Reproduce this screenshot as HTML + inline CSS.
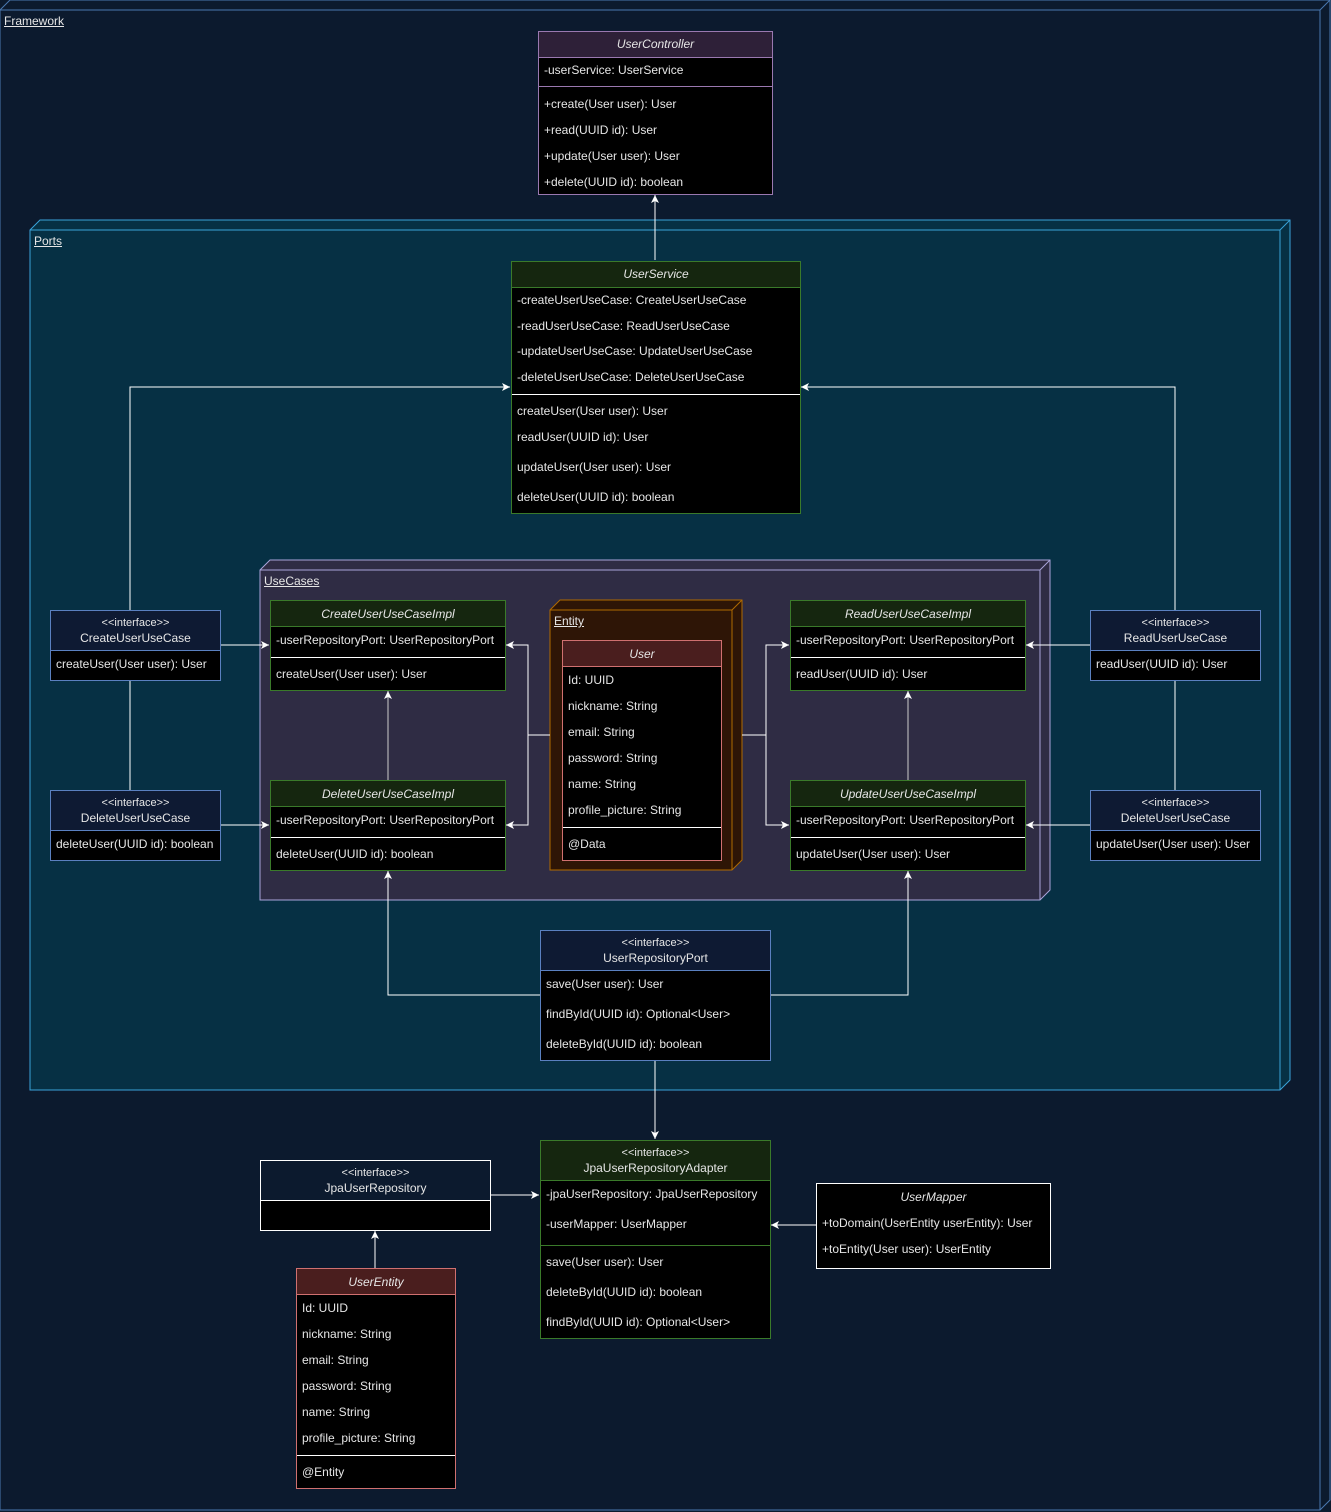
<!DOCTYPE html>
<html><head><meta charset="utf-8"><style>
body{margin:0;width:1331px;height:1512px;background:#0c1a2e;position:relative;overflow:hidden;font-family:"Liberation Sans",Arial,sans-serif;font-size:12px;color:#e6e6e6}
.b{position:absolute;box-sizing:border-box;background:#000;border:1px solid #fff}
.t{position:absolute;left:5px;white-space:nowrap;line-height:14px;transform:translateY(-7px)}
.c{left:0;right:0;text-align:center}
.i{font-style:italic}
.h{position:absolute;left:0;right:0;top:0;box-sizing:border-box}
.d{position:absolute;left:0;right:0;height:1px}
.lbl{position:absolute;text-decoration:underline;font-size:12px;color:#e6e6e6}
svg{position:absolute;left:0;top:0}
</style></head><body>
<svg width="1331" height="1512">
<!-- containers -->
<polygon points="0,10 10,0 1330,0 1330,1500 1320,1510 0,1510" fill="#0c1a2e" stroke="#4a78b0"/>
<polyline points="0,10 1320,10 1320,1510 M1320,10" fill="none" stroke="#4a78b0"/>
<line x1="1320" y1="10" x2="1330" y2="0" stroke="#4a78b0"/>
<polygon points="30,230 40,220 1290,220 1290,1080 1280,1090 30,1090" fill="#063044" stroke="#3aa3d9"/>
<polyline points="30,230 1280,230 1280,1090" fill="none" stroke="#3aa3d9"/>
<line x1="1280" y1="230" x2="1290" y2="220" stroke="#3aa3d9"/>
<polygon points="260,570 270,560 1050,560 1050,890 1040,900 260,900" fill="#2f2c44" stroke="#aaa4da"/>
<polyline points="260,570 1040,570 1040,900" fill="none" stroke="#aaa4da"/>
<line x1="1040" y1="570" x2="1050" y2="560" stroke="#aaa4da"/>
<polygon points="550,610 560,600 742,600 742,860 732,870 550,870" fill="#2e1506" stroke="#b06a00"/>
<polyline points="550,610 732,610 732,870" fill="none" stroke="#b06a00"/>
<line x1="732" y1="610" x2="742" y2="600" stroke="#b06a00"/>
<defs><marker id="a" markerWidth="10" markerHeight="10" refX="8" refY="4" orient="auto" markerUnits="userSpaceOnUse"><path d="M0,0 L8,4 L0,8 L2,4 Z" fill="#fff"/></marker></defs>
<g fill="none" stroke="#fff" stroke-width="1" marker-end="url(#a)">
<path d="M655,260 V195"/>
<path d="M130,610 V387 H510"/>
<path d="M1175,610 V387 H801"/>
<path d="M220,645 H269"/><path d="M220,825 H269"/>
<path d="M1090,645 H1026"/><path d="M1090,825 H1026"/>
<path d="M388,780 V691" stroke="#ccc"/><path d="M908,780 V691" stroke="#ccc"/>
<path d="M528,735 V645 H506"/><path d="M528,735 V825 H506"/>
<path d="M766,735 V645 H789"/><path d="M766,735 V825 H789"/>
<path d="M540,995 H388 V871"/><path d="M770,995 H908 V871"/>
<path d="M655,1060 V1139"/>
<path d="M490,1195 H539"/>
<path d="M816,1225 H771"/>
<path d="M375,1268 V1231"/>
</g>
<g stroke="#fff"><path d="M130,680 V790 M1175,680 V790 M550,735 H528 M742,735 H766"/></g>
</svg>
<div class="lbl" style="left:4px;top:14px">Framework</div>
<div class="lbl" style="left:34px;top:234px">Ports</div>
<div class="lbl" style="left:264px;top:574px">UseCases</div>
<div class="lbl" style="left:554px;top:614px">Entity</div>

<!-- UserController -->
<div class="b" style="left:538px;top:31px;width:235px;height:164px;border-color:#9a78b0">
<div class="h" style="height:26px;background:#2e2038;border-bottom:1px solid #9a78b0"></div>
<div class="t c i" style="top:12px">UserController</div>
<div class="t" style="top:38px">-userService: UserService</div>
<div class="d" style="top:54px;background:#9a78b0"></div>
<div class="t" style="top:72px">+create(User user): User</div>
<div class="t" style="top:98px">+read(UUID id): User</div>
<div class="t" style="top:124px">+update(User user): User</div>
<div class="t" style="top:150px">+delete(UUID id): boolean</div>
</div>

<!-- UserService -->
<div class="b" style="left:511px;top:261px;width:290px;height:253px;border-color:#3a7a2a">
<div class="h" style="height:26px;background:#15260f;border-bottom:1px solid #3a7a2a"></div>
<div class="t c i" style="top:12px">UserService</div>
<div class="t" style="top:38px">-createUserUseCase: CreateUserUseCase</div>
<div class="t" style="top:64px">-readUserUseCase: ReadUserUseCase</div>
<div class="t" style="top:89px">-updateUserUseCase: UpdateUserUseCase</div>
<div class="t" style="top:115px">-deleteUserUseCase: DeleteUserUseCase</div>
<div class="d" style="top:132px;background:#fff"></div>
<div class="t" style="top:149px">createUser(User user): User</div>
<div class="t" style="top:175px">readUser(UUID id): User</div>
<div class="t" style="top:205px">updateUser(User user): User</div>
<div class="t" style="top:235px">deleteUser(UUID id): boolean</div>
</div>

<!-- interfaces -->
<div class="b" style="left:50px;top:610px;width:171px;height:71px;border-color:#5a80c0">
<div class="h" style="height:40px;background:#0e1a33;border-bottom:1px solid #5a80c0"></div>
<div class="t c" style="top:12px;font-size:11px">&lt;&lt;interface&gt;&gt;</div>
<div class="t c" style="top:27px">CreateUserUseCase</div>
<div class="t" style="top:53px">createUser(User user): User</div>
</div>
<div class="b" style="left:50px;top:790px;width:171px;height:71px;border-color:#5a80c0">
<div class="h" style="height:40px;background:#0e1a33;border-bottom:1px solid #5a80c0"></div>
<div class="t c" style="top:12px;font-size:11px">&lt;&lt;interface&gt;&gt;</div>
<div class="t c" style="top:27px">DeleteUserUseCase</div>
<div class="t" style="top:53px">deleteUser(UUID id): boolean</div>
</div>
<div class="b" style="left:1090px;top:610px;width:171px;height:71px;border-color:#5a80c0">
<div class="h" style="height:40px;background:#0e1a33;border-bottom:1px solid #5a80c0"></div>
<div class="t c" style="top:12px;font-size:11px">&lt;&lt;interface&gt;&gt;</div>
<div class="t c" style="top:27px">ReadUserUseCase</div>
<div class="t" style="top:53px">readUser(UUID id): User</div>
</div>
<div class="b" style="left:1090px;top:790px;width:171px;height:71px;border-color:#5a80c0">
<div class="h" style="height:40px;background:#0e1a33;border-bottom:1px solid #5a80c0"></div>
<div class="t c" style="top:12px;font-size:11px">&lt;&lt;interface&gt;&gt;</div>
<div class="t c" style="top:27px">DeleteUserUseCase</div>
<div class="t" style="top:53px">updateUser(User user): User</div>
</div>

<!-- impls -->
<div class="b" style="left:270px;top:600px;width:236px;height:91px;border-color:#3a7a2a">
<div class="h" style="height:26px;background:#15260f;border-bottom:1px solid #3a7a2a"></div>
<div class="t c i" style="top:13px">CreateUserUseCaseImpl</div>
<div class="t" style="top:39px">-userRepositoryPort: UserRepositoryPort</div>
<div class="d" style="top:56px;background:#fff"></div>
<div class="t" style="top:73px">createUser(User user): User</div>
</div>
<div class="b" style="left:270px;top:780px;width:236px;height:91px;border-color:#3a7a2a">
<div class="h" style="height:26px;background:#15260f;border-bottom:1px solid #3a7a2a"></div>
<div class="t c i" style="top:13px">DeleteUserUseCaseImpl</div>
<div class="t" style="top:39px">-userRepositoryPort: UserRepositoryPort</div>
<div class="d" style="top:56px;background:#fff"></div>
<div class="t" style="top:73px">deleteUser(UUID id): boolean</div>
</div>
<div class="b" style="left:790px;top:600px;width:236px;height:91px;border-color:#3a7a2a">
<div class="h" style="height:26px;background:#15260f;border-bottom:1px solid #3a7a2a"></div>
<div class="t c i" style="top:13px">ReadUserUseCaseImpl</div>
<div class="t" style="top:39px">-userRepositoryPort: UserRepositoryPort</div>
<div class="d" style="top:56px;background:#fff"></div>
<div class="t" style="top:73px">readUser(UUID id): User</div>
</div>
<div class="b" style="left:790px;top:780px;width:236px;height:91px;border-color:#3a7a2a">
<div class="h" style="height:26px;background:#15260f;border-bottom:1px solid #3a7a2a"></div>
<div class="t c i" style="top:13px">UpdateUserUseCaseImpl</div>
<div class="t" style="top:39px">-userRepositoryPort: UserRepositoryPort</div>
<div class="d" style="top:56px;background:#fff"></div>
<div class="t" style="top:73px">updateUser(User user): User</div>
</div>

<!-- User -->
<div class="b" style="left:562px;top:640px;width:160px;height:221px;border-color:#d07070">
<div class="h" style="height:26px;background:#4a1e1e;border-bottom:1px solid #d07070"></div>
<div class="t c i" style="top:13px">User</div>
<div class="t" style="top:39px">Id: UUID</div>
<div class="t" style="top:65px">nickname: String</div>
<div class="t" style="top:91px">email: String</div>
<div class="t" style="top:117px">password: String</div>
<div class="t" style="top:143px">name: String</div>
<div class="t" style="top:169px">profile_picture: String</div>
<div class="d" style="top:186px;background:#fff"></div>
<div class="t" style="top:203px">@Data</div>
</div>

<!-- UserRepositoryPort -->
<div class="b" style="left:540px;top:930px;width:231px;height:131px;border-color:#5a80c0">
<div class="h" style="height:40px;background:#0e1a33;border-bottom:1px solid #5a80c0"></div>
<div class="t c" style="top:12px;font-size:11px">&lt;&lt;interface&gt;&gt;</div>
<div class="t c" style="top:27px">UserRepositoryPort</div>
<div class="t" style="top:53px">save(User user): User</div>
<div class="t" style="top:83px">findById(UUID id): Optional&lt;User&gt;</div>
<div class="t" style="top:113px">deleteById(UUID id): boolean</div>
</div>

<!-- JpaUserRepositoryAdapter -->
<div class="b" style="left:540px;top:1140px;width:231px;height:199px;border-color:#3a7a2a">
<div class="h" style="height:40px;background:#15260f;border-bottom:1px solid #3a7a2a"></div>
<div class="t c" style="top:12px;font-size:11px">&lt;&lt;interface&gt;&gt;</div>
<div class="t c" style="top:27px">JpaUserRepositoryAdapter</div>
<div class="t" style="top:53px">-jpaUserRepository: JpaUserRepository</div>
<div class="t" style="top:83px">-userMapper: UserMapper</div>
<div class="d" style="top:104px;background:#3a7a2a"></div>
<div class="t" style="top:121px">save(User user): User</div>
<div class="t" style="top:151px">deleteById(UUID id): boolean</div>
<div class="t" style="top:181px">findById(UUID id): Optional&lt;User&gt;</div>
</div>

<!-- JpaUserRepository -->
<div class="b" style="left:260px;top:1160px;width:231px;height:71px">
<div class="h" style="height:40px;background:#0c1a2e;border-bottom:1px solid #fff"></div>
<div class="t c" style="top:12px;font-size:11px">&lt;&lt;interface&gt;&gt;</div>
<div class="t c" style="top:27px">JpaUserRepository</div>
</div>

<!-- UserEntity -->
<div class="b" style="left:296px;top:1268px;width:160px;height:221px;border-color:#d07070">
<div class="h" style="height:26px;background:#4a1e1e;border-bottom:1px solid #d07070"></div>
<div class="t c i" style="top:13px">UserEntity</div>
<div class="t" style="top:39px">Id: UUID</div>
<div class="t" style="top:65px">nickname: String</div>
<div class="t" style="top:91px">email: String</div>
<div class="t" style="top:117px">password: String</div>
<div class="t" style="top:143px">name: String</div>
<div class="t" style="top:169px">profile_picture: String</div>
<div class="d" style="top:186px;background:#fff"></div>
<div class="t" style="top:203px">@Entity</div>
</div>

<!-- UserMapper -->
<div class="b" style="left:816px;top:1183px;width:235px;height:86px">
<div class="t c i" style="top:13px">UserMapper</div>
<div class="t" style="top:39px">+toDomain(UserEntity userEntity): User</div>
<div class="t" style="top:65px">+toEntity(User user): UserEntity</div>
</div>
</body></html>
